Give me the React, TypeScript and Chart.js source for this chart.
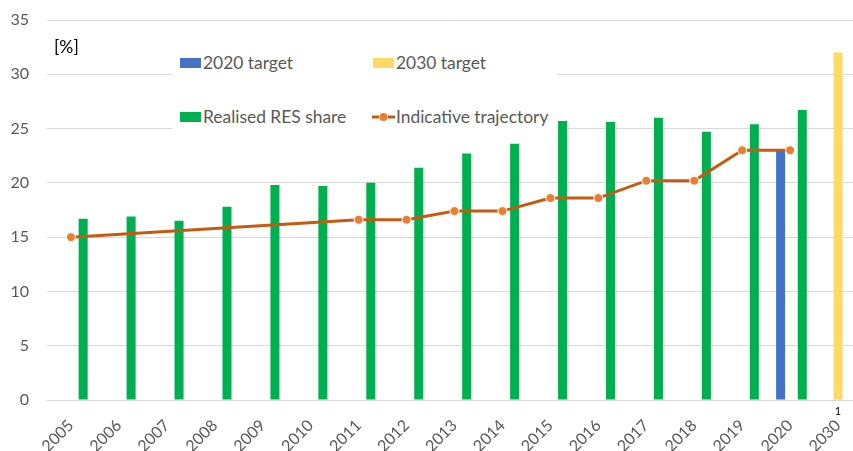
import React, { useEffect, useRef } from "react";
import { Chart, registerables } from "chart.js";

Chart.register(...registerables);

const categories = ["2005", "2006", "2007", "2008", "2009", "2010", "2011", "2012", "2013", "2014", "2015", "2016", "2017", "2018", "2019", "2020", "2030"];
const realisedShare = [16.7, 16.9, 16.5, 17.8, 19.8, 19.7, 20.0, 21.4, 22.7, 23.6, 25.7, 25.6, 26.0, 24.7, 25.4, 26.7, null];
const target2020 = [null, null, null, null, null, null, null, null, null, null, null, null, null, null, null, 23.0, null];
const target2030 = [null, null, null, null, null, null, null, null, null, null, null, null, null, null, null, null, 32.0];
const trajectory = [15.0, null, null, null, null, null, 16.6, 16.6, 17.4, 17.4, 18.6, 18.6, 20.2, 20.2, 23.0, 23.0, null];
const yMin = 0;
const yMax = 35;
const yStep = 5;
const unitLabel = "[%]";
const footnoteMark = "1";

const legendItems = [
  { label: "2020 target", color: "#4472C4", kind: "box", left: 180, top: 62.5 },
  { label: "2030 target", color: "#FFD966", kind: "box", left: 373, top: 62.5 },
  { label: "Realised RES share", color: "#00B050", kind: "box", left: 180, top: 116.7 },
  { label: "Indicative trajectory", color: "#C55A11", kind: "line", left: 372, top: 116.7 },
];

const FONT = "Lato, 'Open Sans', sans-serif";

const textPlugin = {
  id: "extraText",
  afterDraw(chart: any) {
    const { ctx, chartArea, scales } = chart;
    ctx.save();
    ctx.fillStyle = "#000000";
    ctx.font = `17.5px ${FONT}`;
    ctx.textAlign = "left";
    ctx.textBaseline = "middle";
    ctx.fillText(unitLabel, chartArea.left + 7, scales.y.getPixelForValue(32.5));
    ctx.font = `11px ${FONT}`;
    ctx.textAlign = "center";
    ctx.fillText(footnoteMark, scales.x.getPixelForValue(categories.length - 1), chartArea.bottom + 11);
    ctx.restore();
  },
};

export default function App() {
  const ref = useRef<HTMLCanvasElement>(null);
  useEffect(() => {
    const chart = new Chart(ref.current as HTMLCanvasElement, {
      type: "bar",
      data: {
        labels: categories,
        datasets: [
          {
            type: "line",
            label: "Indicative trajectory",
            data: trajectory,
            borderColor: "#C55A11",
            borderWidth: 3,
            pointRadius: 4.5,
            pointBackgroundColor: "#ED7D31",
            pointBorderColor: "#ffffff",
            pointBorderWidth: 1,
            spanGaps: true,
            order: 0,
          } as any,
          {
            label: "2020 target",
            data: target2020,
            backgroundColor: "#4472C4",
            categoryPercentage: 0.594,
            barPercentage: 0.947,
            order: 1,
          },
          {
            label: "2030 target",
            data: target2030,
            backgroundColor: "#FFD966",
            categoryPercentage: 0.6,
            barPercentage: 0.94,
            order: 1,
          },
          {
            label: "Realised RES share",
            data: realisedShare,
            backgroundColor: "#00B050",
            categoryPercentage: 0.763,
            barPercentage: 0.74,
            order: 1,
          },
        ],
      },
      options: {
        responsive: false,
        animation: false,
        devicePixelRatio: 1,
        layout: { padding: { top: 20, right: 8, left: 0, bottom: 0 } },
        plugins: {
          legend: { display: false },
          tooltip: { enabled: false },
        },
        scales: {
          x: {
            grid: { display: false },
            border: { display: false },
            ticks: {
              autoSkip: false,
              minRotation: 45,
              maxRotation: 45,
              padding: 8,
              color: "#595959",
              font: { family: FONT, size: 16 },
            },
            afterFit(scale: any) {
              scale.height = 51;
            },
          },
          y: {
            min: yMin,
            max: yMax,
            border: { display: false },
            grid: { color: "#D9D9D9", lineWidth: 1, drawTicks: false },
            ticks: {
              stepSize: yStep,
              padding: 18,
              color: "#595959",
              font: { family: FONT, size: 16 },
            },
            afterFit(scale: any) {
              scale.width = 47;
              scale.paddingTop = 10;
              scale.paddingBottom = 10;
            },
          },
        },
      } as any,
      plugins: [textPlugin],
    });
    return () => chart.destroy();
  }, []);

  return (
    <div style={{ position: "fixed", left: 0, top: 0, width: 853, height: 451, overflow: "hidden", background: "#ffffff" }}>
      <canvas ref={ref} width={870} height={451} style={{ display: "block" }} />
      <div style={{ position: "absolute", left: 172, top: 30, width: 385, height: 104, background: "#ffffff" }} />
      {legendItems.map((it) => (
        <div
          key={it.label}
          style={{
            position: "absolute",
            left: it.left,
            top: it.top - 10,
            height: 20,
            display: "flex",
            alignItems: "center",
            fontFamily: FONT,
            fontSize: 17.4,
            color: "#595959",
            whiteSpace: "nowrap",
            lineHeight: "20px",
          }}
        >
          {it.kind === "box" ? (
            <span style={{ display: "inline-block", width: 21, height: 10, background: it.color, marginRight: 2 }} />
          ) : (
            <svg width={23} height={10} style={{ marginRight: 1 }}>
              <line x1={0} y1={5} x2={7} y2={5} stroke="#C55A11" strokeWidth={3} />
              <line x1={16} y1={5} x2={23} y2={5} stroke="#C55A11" strokeWidth={3} />
              <circle cx={11.5} cy={5} r={4} fill="#ED7D31" />
            </svg>
          )}
          <span>{it.label}</span>
        </div>
      ))}
    </div>
  );
}
